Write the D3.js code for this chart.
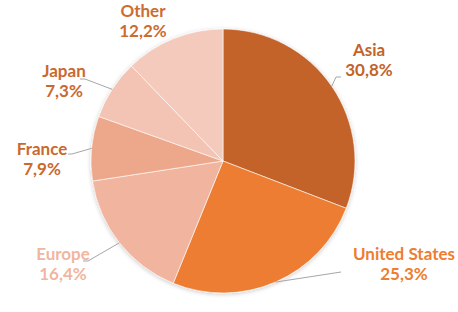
<!doctype html>
<html>
<head>
<script src="https://d3js.org/d3.v7.min.js"></script>
<style>
  body { margin: 0; background: #fff; }
</style>
</head>
<body>
<svg width="458" height="312"></svg>
<script>
// data
var regions = ["Asia", "United States", "Europe", "France", "Japan", "Other"];
var shares = [30.8, 25.3, 16.4, 7.9, 7.3, 12.2];

// styles
var sliceColors = ["#C3632A", "#ED7D31", "#F1B49E", "#EDA78A", "#F3C3B3", "#F4CABD"];
var labelColors = ["#C3632A", "#ED7D31", "#F1B6A0", "#C9692F", "#C9692F", "#CC6C32"];
// label position (centre x, first baseline) relative to the pie centre, and leader elbow points
var labelOffsets = [[146, -105], [181, 99], [-160, 99], [-181, -6], [-159, -84], [-80, -144]];
var leaderEnds = [[[113, -84], [118, -84]], [[118, 111]], [[-135, 100], [-140, 100]],
                  [[-151, -7], [-155, -7]], [[-138, -82], [-143, -82]], null];

var svg = d3.select("svg"),
    cx = 223, cy = 161, radius = 132;

var defs = svg.append("defs");
var f = defs.append("filter").attr("id", "shadow")
    .attr("x", "-10%").attr("y", "-10%").attr("width", "120%").attr("height", "120%");
f.append("feDropShadow").attr("dx", 0).attr("dy", 1).attr("stdDeviation", 2)
    .attr("flood-color", "#000").attr("flood-opacity", 0.22);

var g = svg.append("g").attr("transform", "translate(" + cx + "," + cy + ")");

var pie = d3.pie().sort(null).value(function(d) { return d; });
var arcs = pie(shares);
var arc = d3.arc().innerRadius(0).outerRadius(radius);

g.append("g").attr("filter", "url(#shadow)")
  .selectAll("path")
  .data(arcs)
  .enter()
  .append("path")
  .attr("d", arc)
  .style("fill", function(d, i) { return sliceColors[i]; })
  .style("stroke", "#fff")
  .style("stroke-width", 0.6);

// leader lines, from the middle of each slice's edge
arcs.forEach(function(d, i) {
  if (!leaderEnds[i]) return;
  var a = (d.startAngle + d.endAngle) / 2;
  var pts = [[radius * Math.sin(a), -radius * Math.cos(a)]].concat(leaderEnds[i]);
  g.append("path")
    .attr("d", d3.line()(pts))
    .style("fill", "none")
    .style("stroke", "#A6A6A6")
    .style("stroke-width", 1);
});

// labels
var fmt = function(v) { return v.toFixed(1).replace(".", ",") + "%"; };
var labels = g.selectAll(".lbl")
  .data(arcs)
  .enter()
  .append("text")
  .attr("class", "lbl")
  .attr("text-anchor", "middle")
  .style("font-family", "Lato, 'Open Sans', sans-serif")
  .style("font-weight", "bold")
  .style("font-size", "17px")
  .style("fill", function(d, i) { return labelColors[i]; });

labels.append("tspan")
  .attr("x", function(d, i) { return labelOffsets[i][0]; })
  .attr("y", function(d, i) { return labelOffsets[i][1]; })
  .text(function(d, i) { return regions[i]; });
labels.append("tspan")
  .attr("x", function(d, i) { return labelOffsets[i][0]; })
  .attr("y", function(d, i) { return labelOffsets[i][1] + 20; })
  .text(function(d, i) { return fmt(shares[i]); });
</script>
</body>
</html>
